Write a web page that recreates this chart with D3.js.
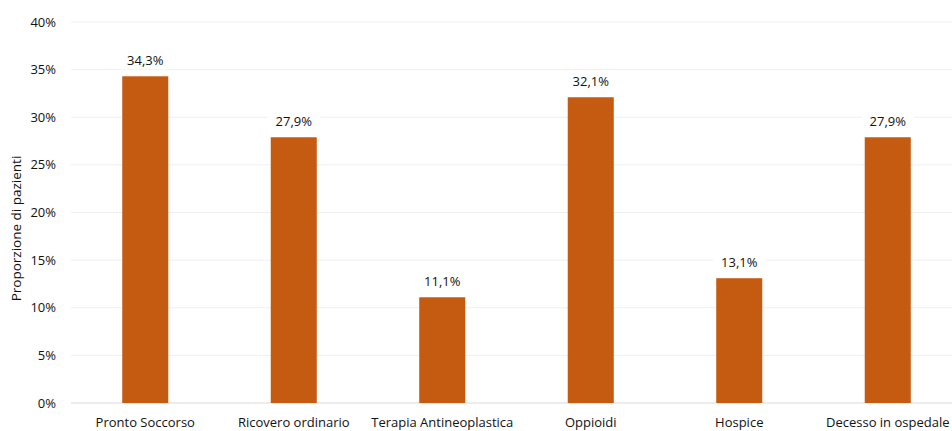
<!DOCTYPE html>
<html>
<head>
<meta charset="utf-8">
<script src="https://cdn.jsdelivr.net/npm/d3@7"></script>
<style>
  body { margin: 0; background: #fff; }
  svg { font-family: "Open Sans", "Noto Sans", sans-serif; }
</style>
</head>
<body>
<svg id="chart" width="952" height="431"></svg>
<script>
const categories = ["Pronto Soccorso", "Ricovero ordinario", "Terapia Antineoplastica", "Oppioidi", "Hospice", "Decesso in ospedale"];
const values = [34.3, 27.9, 11.1, 32.1, 13.1, 27.9];
const yTicks = [0, 5, 10, 15, 20, 25, 30, 35, 40];

const barColor = "#C55A11";
const margin = { left: 71, right: -10, top: 22, bottom: 28 };
const width = 952, height = 431;

const svg = d3.select("#chart");

const x = d3.scaleBand()
  .domain(categories)
  .range([margin.left, width - margin.right])
  .paddingInner(0.69)
  .paddingOuter(0.345);

const y = d3.scaleLinear()
  .domain([0, 40])
  .range([height - margin.bottom, margin.top]);

const fmt = v => d3.format(".1f")(v).replace(".", ",") + "%";

// griglia
svg.append("g")
  .selectAll("line")
  .data(yTicks)
  .join("line")
  .attr("x1", margin.left)
  .attr("x2", width)
  .attr("y1", d => y(d))
  .attr("y2", d => y(d))
  .attr("stroke", d => d === 0 ? "#d9d9d9" : "#efefef")
  .attr("stroke-width", 1);

// etichette asse y
svg.append("g")
  .selectAll("text")
  .data(yTicks)
  .join("text")
  .attr("x", 56)
  .attr("y", d => y(d))
  .attr("dy", "0.35em")
  .attr("text-anchor", "end")
  .attr("font-size", 13)
  .attr("fill", "#111")
  .text(d => d + "%");

// barre
svg.append("g")
  .selectAll("rect")
  .data(values)
  .join("rect")
  .attr("x", (d, i) => x(categories[i]))
  .attr("y", d => y(d))
  .attr("width", x.bandwidth())
  .attr("height", d => y(0) - y(d))
  .attr("fill", barColor);

// etichette dati con sfondo bianco
const labels = svg.append("g")
  .selectAll("g")
  .data(values)
  .join("g")
  .attr("transform", (d, i) => `translate(${x(categories[i]) + x.bandwidth() / 2},${y(d) - 16})`);

labels.append("rect")
  .attr("x", -26)
  .attr("y", -10)
  .attr("width", 52)
  .attr("height", 19)
  .attr("fill", "#fff");

labels.append("text")
  .attr("text-anchor", "middle")
  .attr("dy", "0.35em")
  .attr("font-size", 13)
  .attr("fill", "#111")
  .text(d => fmt(d));

// etichette categorie
svg.append("g")
  .selectAll("text")
  .data(categories)
  .join("text")
  .attr("x", d => x(d) + x.bandwidth() / 2)
  .attr("y", height - 4)
  .attr("text-anchor", "middle")
  .attr("font-size", 13)
  .attr("fill", "#111")
  .text(d => d);

// titolo asse y
svg.append("text")
  .attr("transform", `translate(21,${(y(0) + y(40)) / 2 + 16}) rotate(-90)`)
  .attr("text-anchor", "middle")
  .attr("font-size", 13.5)
  .attr("fill", "#111")
  .text("Proporzione di pazienti");
</script>
</body>
</html>
